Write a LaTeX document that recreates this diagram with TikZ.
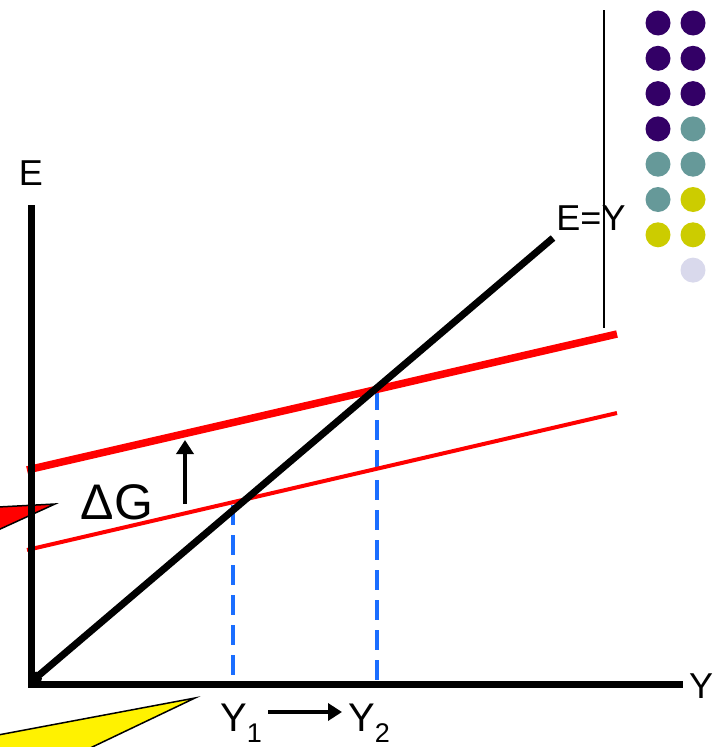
\documentclass[tikz,border=0pt]{standalone}
\usepackage{fontspec}
\setmainfont{Liberation Sans}
\usetikzlibrary{arrows.meta}
\definecolor{dpurple}{HTML}{330066}
\definecolor{dteal}{HTML}{669999}
\definecolor{dyellow}{HTML}{CCCC00}
\definecolor{dlight}{HTML}{D9D9EC}
\definecolor{dblue}{HTML}{1A6EFF}
\begin{document}
\begin{tikzpicture}[x=1pt,y=-1pt,
  axis/.style={line width=7pt,black},
  redthick/.style={line width=7.5pt,red},
  redthin/.style={line width=4pt,red},
  guide/.style={line width=4.5pt,dblue,dash pattern=on 20pt off 10pt},
  shiftarrow/.style={line width=4pt,-{Triangle[length=14pt,width=17pt]}},
  lbl/.style={inner sep=0pt,font=\fontsize{36}{40}\selectfont},
  dot/.style={circle,inner sep=0pt,minimum size=25pt},
  callout/.style={draw=black,line width=1.5pt,line join=miter}]
\useasboundingbox (0,0) rectangle (713,747);
\begin{scope}
\clip (0,0) rectangle (713,747);
% callouts
\fill[red] (-2,507) -- (55,504) -- (-2,530) -- cycle;
\draw[callout] (-2,507) -- (55,504) -- (-2,530);
\fill[yellow] (-2,735) -- (195,698) -- (86,750) -- (-2,750) -- cycle;
\draw[callout] (-2,735) -- (195,698) -- (86,750);
\end{scope}
% coordinates
\coordinate (o) at (31,684);
\coordinate (etop) at (31,205);
\coordinate (yend) at (683,684);
\coordinate (d0) at (31,682);
\coordinate (d1) at (553,238);
\coordinate (ua) at (27,470);
\coordinate (ub) at (617,334);
\coordinate (la) at (27,550);
\coordinate (lb) at (617,413);
\coordinate (v1) at (604,10);
\coordinate (v2) at (604,328);
\coordinate (b1t) at (233,505);
\coordinate (b1b) at (233,684);
\coordinate (b2t) at (377,390);
\coordinate (b2b) at (377,684);
\coordinate (ga) at (185,504);
\coordinate (gb) at (185,440);
% lines
\draw[line width=1.5pt] (v1) -- (v2);
\draw[guide] (b1t) -- (b1b);
\draw[guide] (b2t) -- (b2b);
\draw[redthin] (la) -- (lb);
\draw[redthick] (ua) -- (ub);
\draw[line width=7pt,{Straight Barb[length=4pt,width=12pt]}-] (d0) -- (d1);
\draw[axis] (etop) -- (31,687);
\draw[axis] (28,684) -- (yend);
\draw[shiftarrow] (ga) -- (gb);
% labels
\node[lbl] (lE) at (31,173) {E};
\node[lbl] (lY) at (701,686) {Y};
\node[lbl] (lEY) at (591,218) {E=Y};
\node[inner sep=0pt,font=\fontsize{50}{54}\selectfont] (lDG) at (117,502) {ΔG};
\node[inner sep=0pt,anchor=base west,font=\fontsize{40}{44}\selectfont] (lY1) at (220,731) {Y\raisebox{-11pt}{\fontsize{27}{30}\selectfont 1}};
\node[inner sep=0pt,anchor=base west,font=\fontsize{40}{44}\selectfont] (lY2) at (348,731) {Y\raisebox{-11pt}{\fontsize{27}{30}\selectfont 2}};
\coordinate (ar1) at (268,712);
\coordinate (ar2) at (342,712);
\draw[shiftarrow] (ar1) -- (ar2);
% dots
\foreach \c [count=\i] in {dpurple,dpurple,dpurple,dpurple,dteal,dteal,dyellow}
  \node[dot,fill=\c] (a\i) at (658,{23+35.3*(\i-1)}) {};
\foreach \c [count=\i] in {dpurple,dpurple,dpurple,dteal,dteal,dyellow,dyellow,dlight}
  \node[dot,fill=\c] (b\i) at (693,{23+35.3*(\i-1)}) {};
\end{tikzpicture}
\end{document}
